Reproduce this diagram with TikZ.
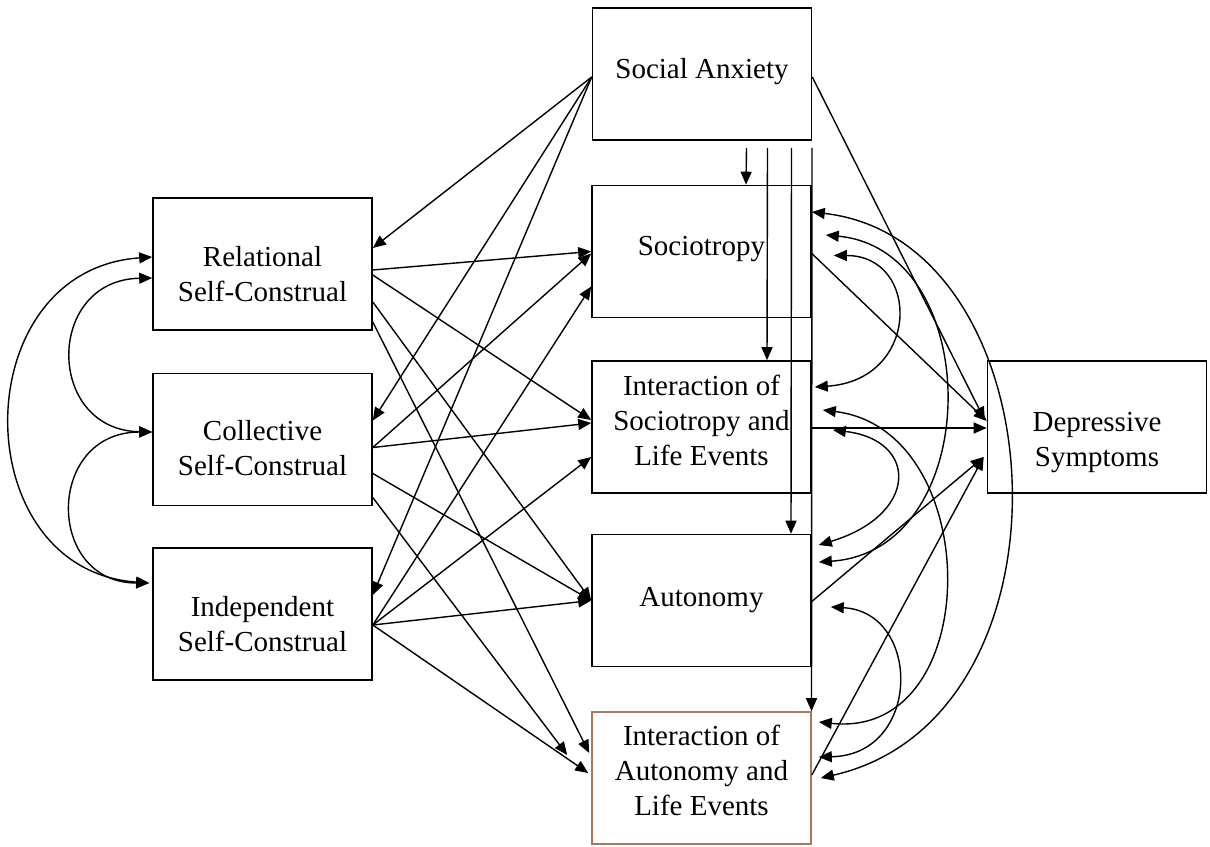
\documentclass[tikz,border=0pt]{standalone}
\usepackage{fontspec}
\setmainfont{Liberation Serif}
\usetikzlibrary{arrows.meta,calc}
\definecolor{boxbrown}{RGB}{170,120,90}
\begin{document}
\begin{tikzpicture}[x=0.5pt,y=-0.5pt,
  box/.style={draw,line width=0.8pt,minimum width=109.5pt,minimum height=66pt,inner sep=0pt},
  txt/.style={align=center,font=\fontsize{14.5}{17.5}\selectfont},
  arr/.style={line width=0.7pt,-{Triangle[length=6.5pt,width=5.5pt]}},
  cov/.style={line width=0.7pt,{Triangle[length=6.5pt,width=5.5pt]}-{Triangle[length=6.5pt,width=5.5pt]}}]
  \useasboundingbox (0,0) rectangle (1210,846);
  \node[box,label={[txt,yshift=1pt]center:Social Anxiety}] (sa) at (702,74) {};
  \node[box,label={[txt,yshift=1pt]center:Sociotropy}] (soc) at (701.5,251.5) {};
  \node[box,label={[txt,yshift=3.5pt]center:Interaction of\\Sociotropy and\\Life Events}] (isoc) at (701.5,427) {};
  \node[box,label={[txt]center:Autonomy}] (aut) at (701.5,600.5) {};
  \node[box,draw=boxbrown,label={[txt,yshift=4pt]center:Interaction of\\Autonomy and\\Life Events}] (iaut) at (701.5,778) {};
  \node[box,label={[txt,yshift=-5pt]center:Relational\\Self-Construal}] (rel) at (262.5,264) {};
  \node[box,label={[txt,yshift=-4.5pt]center:Collective\\Self-Construal}] (col) at (262.5,439.5) {};
  \node[box,label={[txt,yshift=-5pt]center:Independent\\Self-Construal}] (ind) at (262.5,614) {};
  \node[box,label={[txt,yshift=-8pt]center:Depressive\\Symptoms}] (dep) at (1097,427) {};

  \foreach \t/\dy in {rel/-16,col/-19,ind/-19}
    \draw[arr] ($(sa.west)+(0,3)$) -- ($(\t.east)+(0,\dy)$);
  \foreach \s/\ds/\t/\dx/\dt in {rel/6/soc/0/0,rel/11/isoc/0/-7,rel/38/aut/0/0,rel/58/iaut/-2/-25,
      col/8/soc/0/2,col/8/isoc/0/-4,col/34/aut/0/0,col/58/iaut/-24/-23,
      ind/11/soc/0/35,ind/11/isoc/0/30,ind/11/aut/0/0,ind/11/iaut/-3/-5}
    \draw[arr] ($(\s.east)+(0,\ds)$) -- ($(\t.west)+(\dx,\dt)$);
  \foreach \t/\dx in {soc/44.5,isoc/65.5,aut/89.5,iaut/110}
    \draw[arr] ($(sa.south)+(\dx,7)$) -- ($(\t.north)+(\dx,0)$);

  \draw[arr] ($(sa.east)+(0,3)$) -- ($(dep.west)+(-2,-7)$);
  \draw[arr] ($(soc.east)+(0,2)$) -- ($(dep.west)+(0,-6)$);
  \draw[arr] ($(isoc.east)+(0,1)$) -- ($(dep.west)+(0,1)$);
  \draw[arr] ($(aut.east)+(0,1)$) -- ($(dep.west)+(-3,30)$);
  \draw[arr] ($(iaut.east)+(0,-3)$) -- ($(dep.west)+(-3,30)$);

  \draw[cov] ($(soc.east)+(22,4)$) .. controls +(87,0) and +(106,-7) .. ($(isoc.east)+(3,-40)$);
  \draw[cov] ($(soc.east)+(14,-16.5)$) .. controls +(160,15) and +(167,-11) .. ($(aut.east)+(7,-38.5)$);
  \draw[cov] ($(soc.east)+(0,-39.5)$) .. controls +(249,28) and +(265,-60) .. ($(iaut.east)+(9,0)$);
  \draw[cov] ($(isoc.east)+(21,3)$) .. controls +(86,10) and +(100,-30) .. ($(aut.east)+(7,-55.5)$);
  \draw[cov] ($(isoc.east)+(11,-17)$) .. controls +(163,20) and +(167,18) .. ($(iaut.east)+(7,-56)$);
  \draw[cov] ($(aut.east)+(19,6.5)$) .. controls +(91,5) and +(103,-2) .. ($(iaut.east)+(7,-21)$);

  \draw[cov] ($(rel.west)+(0,-7)$) .. controls +(-188,13) and +(-185,-13) .. ($(ind.west)+(-3,-31)$);
  \draw[cov] ($(rel.west)+(0,14)$) .. controls +(-107,2) and +(-107,-2) .. ($(col.west)+(0,-7.5)$);
  \draw[cov] ($(col.west)+(0,-7.5)$) .. controls +(-107,0) and +(-104,0) .. ($(ind.west)+(-3,-31)$);
\end{tikzpicture}
\end{document}
